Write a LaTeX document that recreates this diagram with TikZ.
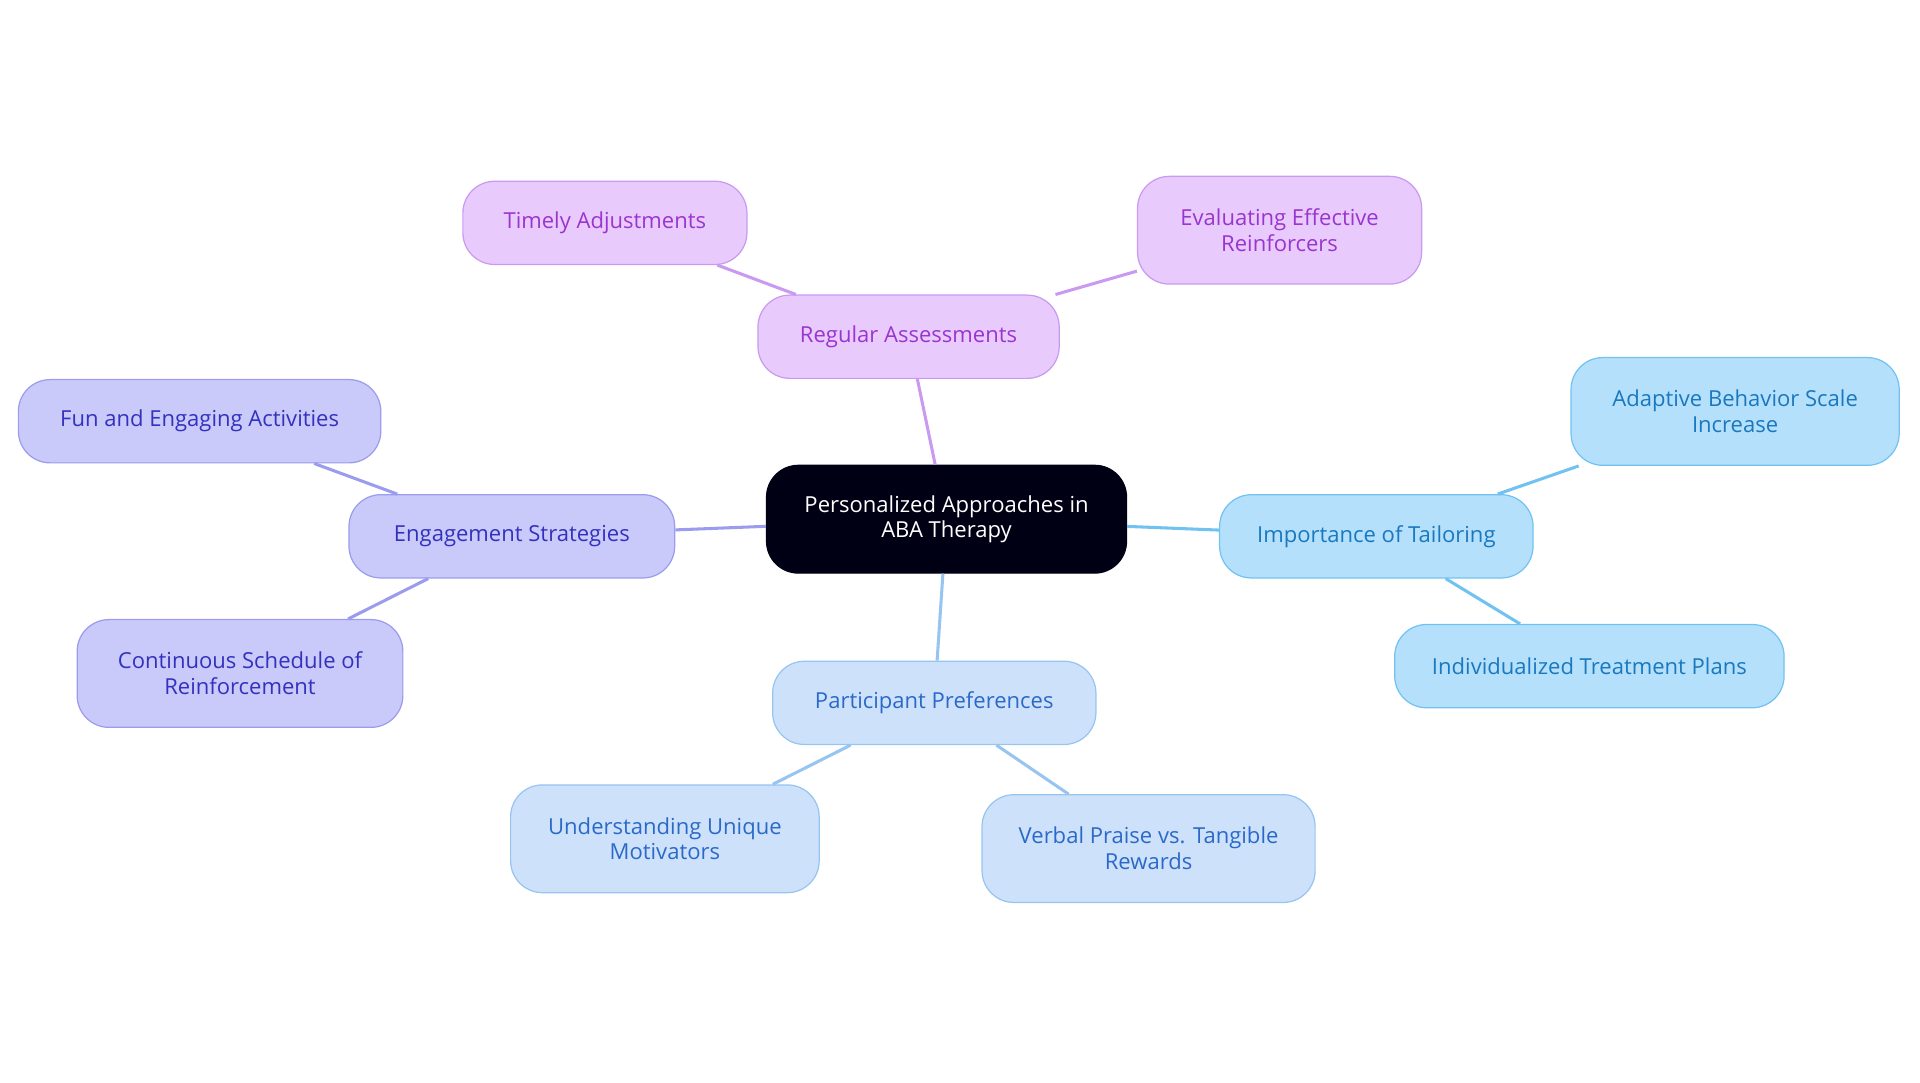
\documentclass[tikz,border=0pt]{standalone}
\usepackage{fontspec}
\setmainfont{Open Sans}
\begin{document}
\begin{tikzpicture}[x=1pt,y=-1pt,
 box/.style={rounded corners=26pt,line width=1pt,align=center,inner sep=0pt,font=\fontsize{18}{21}\selectfont},
 pur/.style={box,fill=cpurf,draw=cpurd,text=cpurt},
 vio/.style={box,fill=cviof,draw=cviod,text=cviot},
 sky/.style={box,fill=cskyf,draw=cskyd,text=cskyt},
 blu/.style={box,fill=cbluf,draw=cblud,text=cblut},
 ln/.style={line width=2.5pt}]
\definecolor{cpurf}{HTML}{E8CBFC}\definecolor{cpurd}{HTML}{C99AF0}\definecolor{cpurt}{HTML}{9A35CF}
\definecolor{cviof}{HTML}{C9C9FA}\definecolor{cviod}{HTML}{9C9CEE}\definecolor{cviot}{HTML}{3232BE}
\definecolor{cskyf}{HTML}{B4E0FC}\definecolor{cskyd}{HTML}{72C2F1}\definecolor{cskyt}{HTML}{1A78BE}
\definecolor{cbluf}{HTML}{CDE2FA}\definecolor{cblud}{HTML}{98C4F0}\definecolor{cblut}{HTML}{2B69C9}
\useasboundingbox (0,0) rectangle (1568,884);
\node[box,fill=black!92!blue,draw=black!92!blue,text=white,minimum width=294pt,minimum height=88pt] (c) at (773,424) {Personalized Approaches in\\ABA Therapy};
\node[pur,minimum width=246pt,minimum height=68pt] (ra) at (742,275) {Regular Assessments};
\node[pur,minimum width=232pt,minimum height=68pt] (ta) at (494,182) {Timely Adjustments};
\node[pur,minimum width=232pt,minimum height=88pt] (ev) at (1045,188) {Evaluating Effective\\Reinforcers};
\node[vio,minimum width=266pt,minimum height=68pt] (es) at (418,438) {Engagement Strategies};
\node[vio,minimum width=296pt,minimum height=68pt] (fu) at (163,344) {Fun and Engaging Activities};
\node[vio,minimum width=266pt,minimum height=88pt] (cs) at (196,550) {Continuous Schedule of\\Reinforcement};
\node[sky,minimum width=256pt,minimum height=68pt] (it) at (1124,438) {Importance of Tailoring};
\node[sky,minimum width=268pt,minimum height=88pt] (ab) at (1417,336) {Adaptive Behavior Scale\\Increase};
\node[sky,minimum width=318pt,minimum height=68pt] (in) at (1298,544) {Individualized Treatment Plans};
\node[blu,minimum width=264pt,minimum height=68pt] (pp) at (763,574) {Participant Preferences};
\node[blu,minimum width=252pt,minimum height=88pt] (un) at (543,685) {Understanding Unique\\Motivators};
\node[blu,minimum width=272pt,minimum height=88pt] (vp) at (938,693) {Verbal Praise vs. Tangible\\Rewards};
\draw[ln,cpurd] (c) -- (ra); \draw[ln,cpurd] (ra) -- (ta); \draw[ln,cpurd] (ra) -- (ev);
\draw[ln,cviod] (c) -- (es); \draw[ln,cviod] (es) -- (fu); \draw[ln,cviod] (es) -- (cs);
\draw[ln,cskyd] (c) -- (it); \draw[ln,cskyd] (it) -- (ab); \draw[ln,cskyd] (it) -- (in);
\draw[ln,cblud] (c) -- (pp); \draw[ln,cblud] (pp) -- (un); \draw[ln,cblud] (pp) -- (vp);
\end{tikzpicture}
\end{document}
